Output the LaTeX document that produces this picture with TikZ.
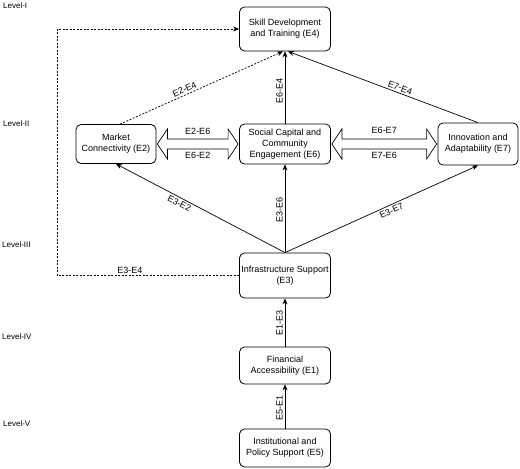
\documentclass[tikz,border=0pt]{standalone}
\usepackage{fontspec}
\setmainfont{Liberation Sans}
\usetikzlibrary{arrows.meta,calc}

\begin{document}
\begin{tikzpicture}[x=1pt, y=1pt, font=\fontsize{9}{11}\selectfont,
    box/.style = {draw, rounded corners=5pt, align=center, line width=0.8pt, minimum width=91pt, inner sep=1pt},
    link/.style = {-{Stealth[length=6pt,width=5pt]}, line width=0.7pt},
    dotlink/.style = {link, dash pattern=on 2pt off 1.5pt},
    wide/.style = {draw, fill=white, line width=0.7pt},
    lvl/.style = {anchor=north west, inner sep=0pt, font=\fontsize{8}{10}\selectfont},
    tag/.style = {inner sep=2pt}]
    \useasboundingbox (0,0) rectangle (520,-469);

    \node[box, minimum height=44pt] (E4) at (285,-29) {Skill Development\\and Training (E4)};
    \node[box, minimum height=40pt] (E6) [below of = E4, node distance = 115pt] {Social Capital and\\Community\\Engagement (E6)};
    \node[box, minimum height=39pt, minimum width=80pt] (E2) [left of = E6, node distance = 169pt] {Market\\Connectivity (E2)};
    \node[box, minimum height=42pt, minimum width=80pt] (E7) [right of = E6, node distance = 193pt] {Innovation and\\Adaptability (E7)};
    \node[box, minimum height=45pt] (E3) [below of = E6, node distance = 131.5pt] {Infrastructure Support\\(E3)};
    \node[box, minimum height=37pt] (E1) [below of = E3, node distance = 90pt] {Financial\\Accessibility (E1)};
    \node[box, minimum height=38pt] (E5) [below of = E1, node distance = 82.5pt] {Institutional and\\Policy Support (E5)};

    \node[lvl] (L1) at (3,-3) {Level-I};
    \node[lvl] (L2) at (3,-121) {Level-II};
    \node[lvl] (L3) at (2,-241) {Level-III};
    \node[lvl] (L4) at (2,-333) {Level-IV};
    \node[lvl] (L5) at (3,-420) {Level-V};

    % upward links
    \draw[link] (E5) -- node[pos=0.46, sloped, above, tag] {E5-E1} (E1);
    \draw[link] (E1) -- node[midway, sloped, above, tag] {E1-E3} (E3);
    \draw[link] (E3.north) -- node[pos=0.48, sloped, above, tag] {E3-E6} (E6.south);
    \draw[link] (E3.north) -- node[pos=0.61, sloped, below, tag] {E3-E2} (E2.south);
    \draw[link] (E3.north) -- node[pos=0.54, sloped, below, tag] {E3-E7} (E7.south);
    \draw[link] (E6.north) -- node[pos=0.45, sloped, above, tag] {E6-E4} (E4.south);
    \draw[link] (E7.north) -- node[pos=0.42, sloped, above, tag] {E7-E4} ([xshift=3pt]E4.south);
    \draw[dotlink] ([xshift=4pt]E2.north) -- node[pos=0.41, sloped, above, tag] {E2-E4} ([xshift=-2pt]E4.south);
    \draw[dotlink] (E3.west) -- node[pos=0.6, above, tag] {E3-E4} ++(-182,0) |- (E4.west);

    % two-way links
    \path[wide] let \p1 = (E2.east), \p2 = (E6.west) in
        (\x1+1pt,\y1) -- (\x1+11pt,\y1+15pt) -- (\x1+11pt,\y1+5pt) -- (\x2-11pt,\y1+5pt) -- (\x2-11pt,\y1+15pt)
        -- (\x2-1pt,\y1) -- (\x2-11pt,\y1-15pt) -- (\x2-11pt,\y1-5pt) -- (\x1+11pt,\y1-5pt) -- (\x1+11pt,\y1-15pt) -- cycle
        ({0.5*\x1+0.5*\x2},\y1+12.5pt) node[tag] {E2-E6}
        ({0.5*\x1+0.5*\x2},\y1-11pt) node[tag] {E6-E2};
    \path[wide] let \p1 = (E6.east), \p2 = (E7.west) in
        (\x1+1pt,\y1) -- (\x1+11pt,\y1+15pt) -- (\x1+11pt,\y1+5pt) -- (\x2-11pt,\y1+5pt) -- (\x2-11pt,\y1+15pt)
        -- (\x2-1pt,\y1) -- (\x2-11pt,\y1-15pt) -- (\x2-11pt,\y1-5pt) -- (\x1+11pt,\y1-5pt) -- (\x1+11pt,\y1-15pt) -- cycle
        ({0.5*\x1+0.5*\x2},\y1+13.5pt) node[tag] {E6-E7}
        ({0.5*\x1+0.5*\x2},\y1-11pt) node[tag] {E7-E6};
\end{tikzpicture}
\end{document}
